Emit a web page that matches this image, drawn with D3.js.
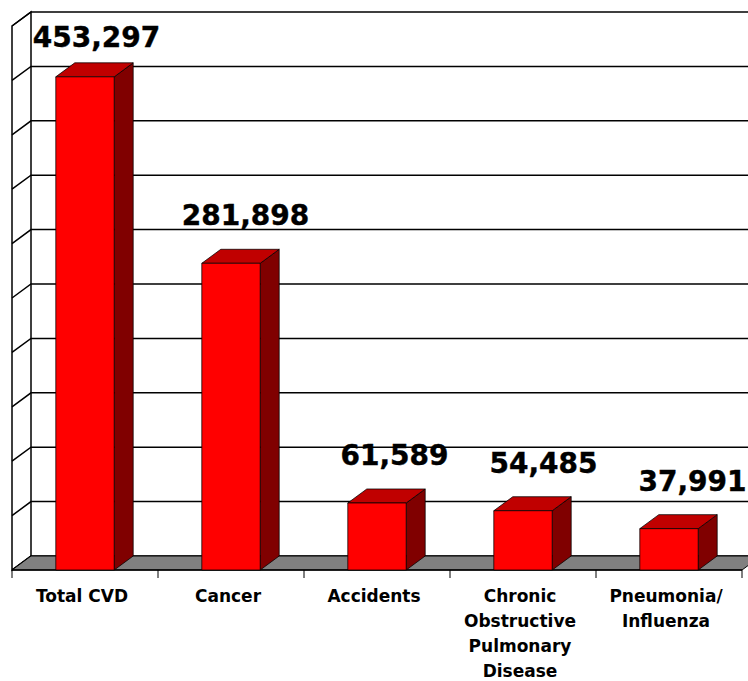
<!DOCTYPE html>
<meta charset="utf-8">
<script src="https://cdn.jsdelivr.net/npm/d3@7/dist/d3.min.js"></script>
<style>
body { margin: 0; background: #fff; }
svg { display: block; }
.grid { stroke: #000; stroke-width: 1.5px; fill: none; }
.wall { fill: #fff; stroke: #000; stroke-width: 1.5px; }
.floor { fill: #808080; stroke: #000; stroke-width: 1px; }
.bar path { stroke: #000; stroke-width: 0.75px; stroke-linejoin: round; }
.front { fill: #ff0000; }
.top { fill: #c00000; }
.side { fill: #800000; }
.value { font: bold 28px "DejaVu Sans", sans-serif; fill: #000; stroke: #000; stroke-width: 0.4px; text-anchor: middle; }
.cat { font: bold 17px "DejaVu Sans", sans-serif; fill: #000; text-anchor: middle; }
</style>
<body>
<script>

var categories = ["Total CVD", "Cancer", "Accidents", "Chronic Obstructive Pulmonary Disease", "Pneumonia/ Influenza"];
var categoryLines = [["Total CVD"], ["Cancer"], ["Accidents"], ["Chronic", "Obstructive", "Pulmonary", "Disease"], ["Pneumonia/", "Influenza"]];
var deaths = [453297, 281898, 61589, 54485, 37991];
var gridTicks = [0, 50000, 100000, 150000, 200000, 250000, 300000, 350000, 400000, 450000, 500000];

var width = 748,
    height = 681;

// 3d depth offset
var dx = 19,
    dy = 14;

var frontLeft = 12,
    frontRight = 742,
    floorFront = 570,
    wallTop = 12;

var x = d3.scaleBand()
    .domain(categories)
    .range([frontLeft, frontRight])
    .paddingInner(0.6)
    .paddingOuter(0.3);

// value scale on the back wall
var y = d3.scaleLinear()
    .domain([0, 500000])
    .range([floorFront - dy, wallTop]);

var svg = d3.select("body").append("svg")
    .attr("width", width)
    .attr("height", height);

// left side wall
svg.append("path")
    .attr("class", "wall")
    .attr("d", "M" + frontLeft + "," + (y(500000) + dy) +
               "L" + (frontLeft + dx) + "," + y(500000) +
               "L" + (frontLeft + dx) + "," + y(0) +
               "L" + frontLeft + "," + (y(0) + dy) + "Z");

// gridlines on back wall and side wall
svg.append("g").selectAll("path")
    .data(gridTicks)
    .enter().append("path")
    .attr("class", "grid")
    .attr("d", function(d) {
        return "M" + frontLeft + "," + (y(d) + dy) +
               "L" + (frontLeft + dx) + "," + y(d) +
               "L" + (frontRight + dx) + "," + y(d);
    });

// floor
svg.append("path")
    .attr("class", "floor")
    .attr("d", "M" + frontLeft + "," + floorFront +
               "L" + frontRight + "," + floorFront +
               "L" + (frontRight + dx) + "," + (floorFront - dy) +
               "L" + (frontLeft + dx) + "," + (floorFront - dy) + "Z");

// category ticks
var bounds = categories.map(function(c) { return x(c) - x.step() * x.paddingInner() / 2; });
bounds.push(frontRight);
bounds[0] = frontLeft;

svg.append("g").selectAll("line")
    .data(bounds)
    .enter().append("line")
    .attr("x1", function(d) { return d; })
    .attr("x2", function(d) { return d; })
    .attr("y1", floorFront)
    .attr("y2", floorFront + 8)
    .attr("stroke", "#000")
    .attr("stroke-width", 1);

svg.append("line")
    .attr("x1", frontLeft).attr("x2", frontRight)
    .attr("y1", floorFront).attr("y2", floorFront)
    .attr("stroke", "#000").attr("stroke-width", 1.5);

// bars
var bar = svg.append("g").selectAll("g")
    .data(categories)
    .enter().append("g")
    .attr("class", "bar");

function geom(i) {
    var c = categories[i];
    var x0 = x(c),
        x1 = x(c) + x.bandwidth(),
        h = y(0) - y(deaths[i]),
        yb = floorFront,
        yt = floorFront - h;
    return {x0: x0, x1: x1, yb: yb, yt: yt};
}

bar.append("path")
    .attr("class", "side")
    .attr("d", function(d, i) {
        var g = geom(i);
        return "M" + g.x1 + "," + g.yb + "L" + (g.x1 + dx) + "," + (g.yb - dy) +
               "L" + (g.x1 + dx) + "," + (g.yt - dy) + "L" + g.x1 + "," + g.yt + "Z";
    });

bar.append("path")
    .attr("class", "top")
    .attr("d", function(d, i) {
        var g = geom(i);
        return "M" + g.x0 + "," + g.yt + "L" + (g.x0 + dx) + "," + (g.yt - dy) +
               "L" + (g.x1 + dx) + "," + (g.yt - dy) + "L" + g.x1 + "," + g.yt + "Z";
    });

bar.append("path")
    .attr("class", "front")
    .attr("d", function(d, i) {
        var g = geom(i);
        return "M" + g.x0 + "," + g.yb + "L" + g.x0 + "," + g.yt +
               "L" + g.x1 + "," + g.yt + "L" + g.x1 + "," + g.yb + "Z";
    });

// value labels
var fmt = d3.format(",");
svg.append("g").selectAll("text")
    .data(categories)
    .enter().append("text")
    .attr("class", "value")
    .attr("x", function(d, i) { return x(d) + (x.bandwidth() + dx) / 2 + 2 + i * 3; })
    .attr("y", function(d, i) { return Math.max(y(deaths[i]) - 24, 47); })
    .text(function(d, i) { return fmt(deaths[i]); });

// category labels
var cat = svg.append("g").selectAll("text")
    .data(categories)
    .enter().append("text")
    .attr("class", "cat")
    .attr("x", function(d) { return x(d) + x.bandwidth() / 2 - 3; })
    .attr("y", 602);

cat.selectAll("tspan")
    .data(function(d, i) { return categoryLines[i]; })
    .enter().append("tspan")
    .attr("x", function() { return d3.select(this.parentNode).attr("x"); })
    .attr("dy", function(d, j) { return j === 0 ? 0 : 25; })
    .text(function(d) { return d; });

</script>
</body>
